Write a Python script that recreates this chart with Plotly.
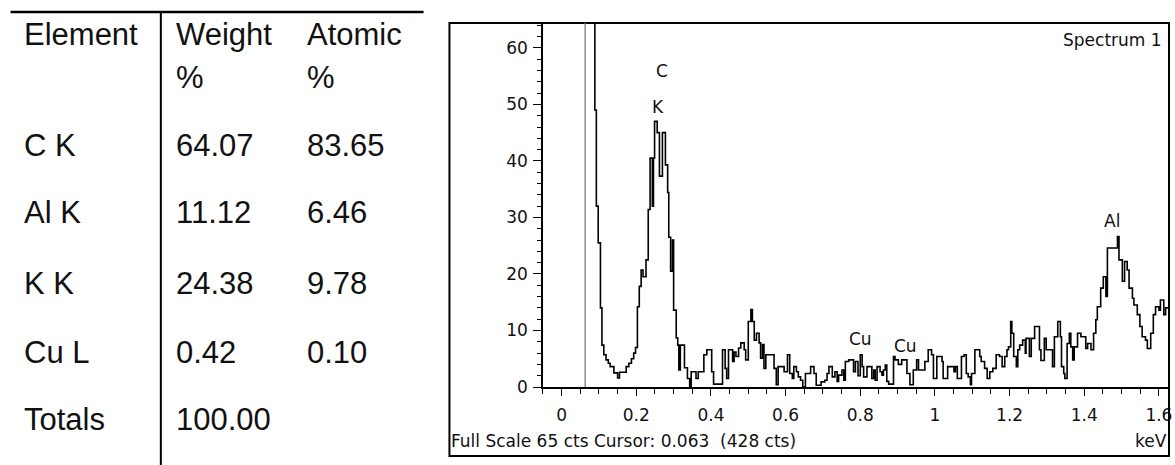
import plotly.graph_objects as go

# ---------------- data ----------------
energy_kev = [
    0.080, 0.089, 0.093, 0.098, 0.104, 0.108, 0.113, 0.119, 0.125, 0.130,
    0.140, 0.150, 0.155, 0.173, 0.180, 0.187, 0.193, 0.198, 0.203, 0.208,
    0.213, 0.218, 0.226, 0.232, 0.237, 0.243, 0.246, 0.249, 0.256, 0.262,
    0.270, 0.278, 0.284, 0.287, 0.292, 0.297, 0.300, 0.307, 0.311, 0.314,
    0.318, 0.329, 0.337, 0.343, 0.347, 0.360, 0.366, 0.381, 0.389, 0.402,
    0.407, 0.431, 0.438, 0.442, 0.447, 0.458, 0.462, 0.467, 0.474, 0.480,
    0.489, 0.493, 0.500, 0.507, 0.511, 0.516, 0.522, 0.529, 0.533, 0.538,
    0.542, 0.547, 0.569, 0.575, 0.580, 0.596, 0.605, 0.611, 0.618, 0.622,
    0.629, 0.634, 0.640, 0.646, 0.653, 0.667, 0.676, 0.682, 0.695, 0.705,
    0.711, 0.716, 0.725, 0.732, 0.738, 0.742, 0.751, 0.756, 0.760, 0.769,
    0.782, 0.787, 0.794, 0.800, 0.805, 0.809, 0.818, 0.831, 0.836, 0.840,
    0.845, 0.853, 0.858, 0.862, 0.867, 0.871, 0.876, 0.889, 0.893, 0.902,
    0.911, 0.925, 0.933, 0.942, 0.951, 0.956, 0.973, 0.982, 0.991, 0.996,
    1.005, 1.019, 1.022, 1.034, 1.051, 1.055, 1.060, 1.071, 1.078, 1.084,
    1.089, 1.095, 1.098, 1.107, 1.120, 1.124, 1.133, 1.140, 1.147, 1.155,
    1.164, 1.173, 1.180, 1.187, 1.193, 1.197, 1.203, 1.206, 1.211, 1.218,
    1.222, 1.227, 1.235, 1.242, 1.244, 1.253, 1.258, 1.267, 1.280, 1.284,
    1.293, 1.298, 1.315, 1.320, 1.329, 1.336, 1.339, 1.345, 1.348, 1.354,
    1.360, 1.364, 1.369, 1.373, 1.382, 1.391, 1.404, 1.409, 1.418, 1.425,
    1.431, 1.435, 1.444, 1.451, 1.458, 1.462, 1.489, 1.493, 1.502, 1.508,
    1.515, 1.520, 1.529, 1.533, 1.542, 1.549, 1.555, 1.564, 1.569, 1.578,
    1.585, 1.591, 1.600, 1.604, 1.613, 1.618, 1.627, 1.632,
]
counts = [
    428, 49, 32, 25.5, 14, 7.4, 5.7, 4.8, 4.2, 3.6,
    2.5, 1.6, 2.6, 3.6, 4.2, 5.0, 6.0, 7.0, 14.2, 17.8,
    20.7, 19.5, 22.5, 31.4, 40.5, 32, 40.5, 47, 45, 37.3,
    45, 39.3, 34.4, 26.5, 20.5, 26, 13.6, 8.7, 7.4, 3.0,
    7.4, 3.4, 1.5, 0, 2.7, 1.5, 2.7, 5.7, 6.6, 2.7,
    0.5, 6.6, 3.3, 1.5, 6.6, 4.5, 6.2, 5.4, 6.9, 7.8,
    6.6, 4.8, 11.6, 13.7, 11.6, 8.3, 9.5, 7.8, 5.1, 7.5,
    3.3, 5.7, 3.3, 0.4, 3.6, 2.7, 5.7, 2.4, 1.5, 3.6,
    2.7, 1.8, 1.2, 0, 2.4, 3.6, 2.4, 0.3, 0.9, 1.2,
    2.4, 3.6, 1.8, 2.7, 1.0, 2.1, 3.0, 1.2, 4.5, 4.8,
    2.7, 4.5, 2.0, 5.7, 3.6, 1.8, 3.6, 1.5, 3.0, 1.2,
    3.6, 2.7, 2.1, 3.0, 3.9, 1.0, 0.5, 5.4, 4.8, 4.0,
    4.8, 2.4, 0.4, 3.0, 4.8, 3.0, 4.5, 6.6, 5.7, 1.5,
    5.4, 4.5, 1.5, 3.6, 2.7, 3.6, 1.5, 5.4, 5.7, 2.4,
    1.8, 0.4, 2.4, 6.6, 5.4, 4.5, 3.3, 1.5, 2.7, 3.3,
    5.7, 5.4, 3.6, 5.4, 6.6, 7.1, 11.6, 9.5, 5.4, 3.6,
    6.6, 7.4, 8.3, 6.0, 8.6, 5.4, 8.6, 10.7, 6.6, 4.7,
    8.6, 6.6, 3.6, 8.9, 11.6, 8.9, 3.6, 2.4, 1.5, 7.7,
    9.5, 7.1, 4.8, 7.1, 9.5, 8.9, 6.8, 7.7, 6.6, 9.5,
    11.9, 14.2, 17.5, 19.5, 16.0, 24.6, 26.6, 22.5, 18.7, 22.2,
    20.7, 17.5, 15.7, 14.5, 12.8, 10.7, 8.9, 8.3, 6.8, 9.5,
    12.8, 14.2, 13.6, 15.4, 12.8, 14.0, 19.5, 19.5,
]

x_tick_values = [0, 0.2, 0.4, 0.6, 0.8, 1, 1.2, 1.4, 1.6]
y_tick_values = [0, 10, 20, 30, 40, 50, 60]

peak_labels = ["C", "K", "Al", "Cu", "Cu"]
peak_label_kev = [0.270, 0.257, 1.475, 0.800, 0.921]
peak_label_cts = [55.9, 49.6, 29.3, 8.5, 7.3]

cursor_kev = 0.063
spectrum_title = "Spectrum 1"
footer_text = "Full Scale 65 cts Cursor: 0.063  (428 cts)"
unit_text = "keV"

table_headers = ["Element", "Weight", "Atomic"]
table_header_units = ["", "%", "%"]
table_elements = ["C K", "Al K", "K K", "Cu L", "Totals"]
table_weight = ["64.07", "11.12", "24.38", "0.42", "100.00"]
table_atomic = ["83.65", "6.46", "9.78", "0.10", ""]

# ---------------- layout helpers ----------------
W, H = 1175, 465
PL, PR, PT, PB = 543, 1172, 23, 387


def px(x):
    return (x - PL) / (PR - PL)


def py(y):
    return (PB - y) / (PB - PT)


fig = go.Figure()
fig.add_trace(go.Scatter(
    x=energy_kev, y=counts, mode="lines",
    line=dict(color="black", width=1.6, shape="hv"),
    showlegend=False, hoverinfo="skip",
))

plot_font = dict(family="DejaVu Sans", size=17, color="#111111")
table_font = dict(family="Liberation Sans, Arial", size=31, color="#111111")

annotations = []
# table
col_x = [20, 172, 304]
for i, h in enumerate(table_headers):
    annotations.append(dict(text=h, x=px(col_x[i]), y=py(34)))
    if table_header_units[i]:
        annotations.append(dict(text=table_header_units[i], x=px(col_x[i]), y=py(77)))
row_y = [145, 213, 283, 352, 420]
for r, yy in enumerate(row_y):
    for c, col in enumerate([table_elements, table_weight, table_atomic]):
        if col[r]:
            annotations.append(dict(text=col[r], x=px(col_x[c]), y=py(yy)))
for a in annotations:
    a.update(xref="paper", yref="paper", xanchor="left", yanchor="middle",
             showarrow=False, font=table_font)

# spectrum texts
for t, xk, yc in zip(peak_labels, peak_label_kev, peak_label_cts):
    annotations.append(dict(text=t, x=xk, y=yc, xref="x", yref="y",
                            showarrow=False, font=plot_font,
                            xanchor="center", yanchor="middle"))
annotations.append(dict(text=spectrum_title, x=px(1167), y=py(40), xref="paper",
                        yref="paper", xanchor="right", yanchor="middle",
                        showarrow=False, font=plot_font))
annotations.append(dict(text=footer_text, x=px(449), y=py(441), xref="paper",
                        yref="paper", xanchor="left", yanchor="middle",
                        showarrow=False, font=plot_font))
annotations.append(dict(text=unit_text, x=px(1172), y=py(441), xref="paper",
                        yref="paper", xanchor="right", yanchor="middle",
                        showarrow=False, font=plot_font))

shapes = [
    # spectrum frame
    dict(type="rect", xref="paper", yref="paper", x0=px(449), x1=px(1172),
         y0=py(456), y1=py(23), line=dict(color="black", width=2)),
    # cursor
    dict(type="line", xref="x", yref="paper", x0=cursor_kev, x1=cursor_kev,
         y0=0, y1=1, line=dict(color="#7a7a7a", width=1.3)),
    # table lines
    dict(type="line", xref="paper", yref="paper", x0=px(8), x1=px(423),
         y0=py(12), y1=py(12), line=dict(color="black", width=2.5)),
    dict(type="line", xref="paper", yref="paper", x0=px(159), x1=px(159),
         y0=py(12), y1=py(470), line=dict(color="black", width=2)),
]

fig.update_layout(
    width=W, height=H,
    margin=dict(l=PL, r=W - PR, t=PT, b=H - PB, pad=0),
    paper_bgcolor="white", plot_bgcolor="white",
    annotations=annotations, shapes=shapes, showlegend=False,
    xaxis=dict(
        range=[-0.0499, 1.627], showline=True, linecolor="black", linewidth=1.5,
        ticks="outside", ticklen=7, tickwidth=1.2, tickcolor="black",
        tickvals=x_tick_values, showgrid=False, zeroline=False,
        tickfont=plot_font, ticklabelstandoff=5, ticklabeloverflow="allow",
        minor=dict(ticks="outside", ticklen=5, tickwidth=1.2, tickcolor="black",
                   dtick=0.05, tick0=0, showgrid=False),
    ),
    yaxis=dict(
        range=[0, 64.4], showline=True, linecolor="black", linewidth=1.5,
        ticks="outside", ticklen=8, tickwidth=1.2, tickcolor="black",
        tickvals=y_tick_values, showgrid=False, zeroline=False,
        tickfont=plot_font, ticklabelstandoff=2,
        minor=dict(ticks="outside", ticklen=4, tickwidth=1.2, tickcolor="black",
                   dtick=2, tick0=0, showgrid=False),
    ),
)

fig.write_html("out.html")
